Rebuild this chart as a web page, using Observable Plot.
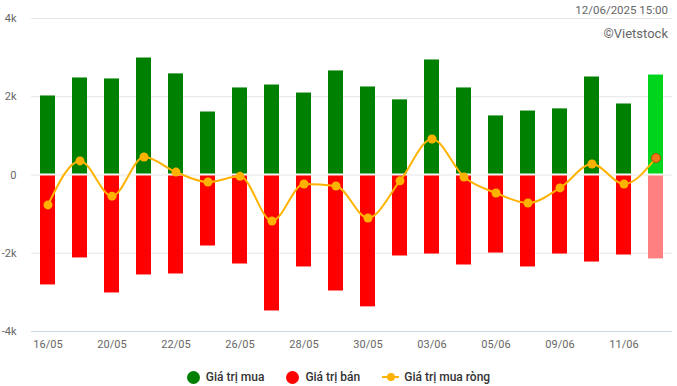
<!DOCTYPE html>
<html><head><meta charset="utf-8">
<script src="https://cdn.jsdelivr.net/npm/d3@7"></script>
<script src="https://cdn.jsdelivr.net/npm/@observablehq/plot@0.6"></script>
<style>
body{margin:0;background:#fff;font-family:Roboto,sans-serif;}
#wrap{position:relative;width:677px;height:386px;overflow:hidden;}
.stamp{position:absolute;right:9px;color:#666;line-height:1;}
#legend{position:absolute;top:370px;left:0;width:677px;display:flex;justify-content:center;align-items:center;font-size:12px;font-weight:500;color:#333;}
.item{display:flex;align-items:center;margin:0 11px;}
.sw{width:13px;height:13px;border-radius:50%;margin-right:6px;}
.ln{position:relative;width:17px;height:12px;margin-right:5px;}
.ln:before{content:"";position:absolute;left:0;right:0;top:5px;height:2px;background:#ffb300;}
.ln:after{content:"";position:absolute;left:4.5px;top:2px;width:8px;height:8px;border-radius:50%;background:#ffb300;}
</style></head>
<body><div id="wrap">
<div id="chart"></div>
<div class="stamp" style="top:5px;font-size:11.5px;">12/06/2025 15:00</div>
<div class="stamp" style="top:27px;font-size:13px;">©Vietstock</div>
<div id="legend"></div>
</div>
<script>
const dates = ["16/05","19/05","20/05","21/05","22/05","23/05","26/05","27/05","28/05","29/05","30/05","02/06","03/06","04/06","05/06","06/06","09/06","10/06","11/06","12/06"];
const buy = [2020,2480,2455,2990,2585,1610,2225,2300,2095,2660,2250,1920,2940,2225,1510,1635,1690,2505,1815,2555];
const sell = [-2810,-2120,-3015,-2555,-2530,-1815,-2275,-3475,-2350,-2965,-3370,-2070,-2020,-2300,-1995,-2350,-2020,-2225,-2045,-2145];
const net = [-765,360,-540,460,75,-180,-35,-1175,-230,-280,-1100,-150,920,-50,-460,-715,-330,280,-230,435];
const yTicks = [-4000,-2000,0,2000,4000];
const yTickLabels = ["-4k","-2k","0","2k","4k"];
const xTickLabels = ["16/05","20/05","22/05","26/05","28/05","30/05","03/06","05/06","09/06","11/06"];
const seriesNames = ["Giá trị mua","Giá trị bán","Giá trị mua ròng"];

const last = dates.length - 1;
const rows = dates.map((d,i)=>({date:d, buy:buy[i], sell:sell[i], net:net[i], last:i===last}));

const chart = Plot.plot({
  width:677, height:362,
  marginLeft:31, marginRight:5, marginTop:18, marginBottom:31,
  style:{fontSize:"11px", fontFamily:"Roboto, sans-serif", color:"#666", background:"#fff"},
  x:{domain:dates, paddingInner:0.53, paddingOuter:0.265, label:null},
  y:{domain:[-4000,4000], label:null},
  marks:[
    Plot.ruleY(yTicks.slice(1), {stroke:"#e6e6e6", strokeWidth:1}),
    Plot.ruleY([-4000], {stroke:"#ccd6eb", strokeWidth:1}),
    Plot.barY(rows, {x:"date", y:"buy", fill:d=>d.last?"#00d41c":"#008000", insetBottom:1}),
    Plot.barY(rows, {x:"date", y:"sell", fill:d=>d.last?"#ff8080":"#ff0000", insetTop:1}),
    Plot.line(rows, {x:"date", y:"net", stroke:"#ffb300", strokeWidth:2, curve:"monotone-x"}),
    Plot.dot(rows, {x:"date", y:"net", r:4.5, fill:d=>d.last?"#f5761a":"#ffb300", stroke:d=>d.last?"#b34d00":"none", strokeWidth:1}),
    Plot.axisY({ticks:yTicks, tickFormat:d=>yTickLabels[yTicks.indexOf(d)], tickSize:0, tickPadding:15, label:null}),
    Plot.axisX({ticks:xTickLabels, tickSize:0, tickPadding:9, label:null})
  ]
});
document.getElementById("chart").appendChild(chart);

const legend = document.getElementById("legend");
const swColors = ["#008000","#ff0000"];
seriesNames.forEach((name,i)=>{
  const it = document.createElement("div"); it.className="item";
  const m = document.createElement("div");
  if (i<2){ m.className="sw"; m.style.background=swColors[i]; } else { m.className="ln"; }
  it.appendChild(m);
  const t = document.createElement("span"); t.textContent=name; it.appendChild(t);
  legend.appendChild(it);
});
</script>
</body></html>
